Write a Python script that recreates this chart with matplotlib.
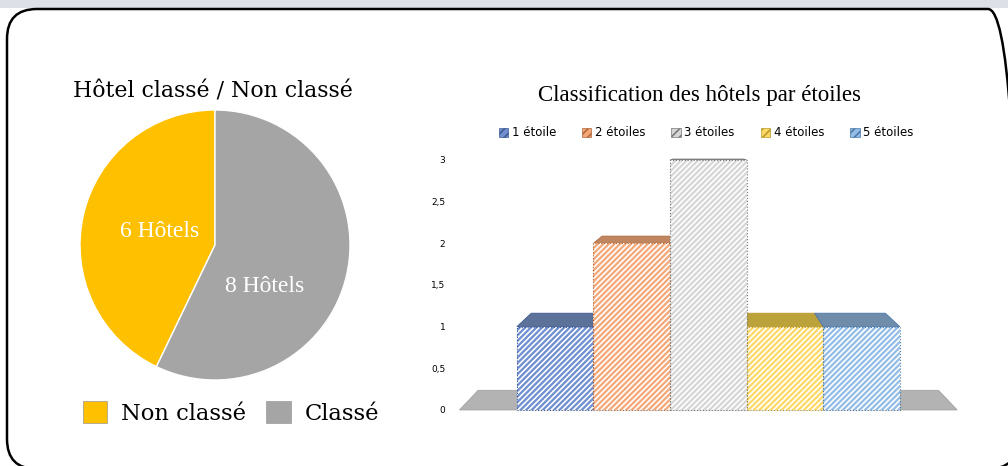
import matplotlib.pyplot as plt
from matplotlib.patches import Patch, Polygon, FancyBboxPatch, Rectangle

# pie data
pie_labels = ['Non classé', 'Classé']
pie_values = [6, 8]
pie_colors = ['#FFC000', '#A5A5A5']

# bar data
bar_labels = ['1 étoile', '2 étoiles', '3 étoiles', '4 étoiles', '5 étoiles']
bar_values = [1, 2, 3, 1, 1]
bar_colors = ['#6f8fd0', '#f4a878', '#d6d6d6', '#ffd966', '#93bde6']
top_colors = ['#5d7298', '#c08660', '#8e8e8e', '#bba23a', '#6f8cab']
edge_colors = ['#3f5a92', '#b0683c', '#7a7a7a', '#b89a2a', '#4a78a8']
y_ticks = [0, 0.5, 1, 1.5, 2, 2.5, 3]
y_tick_labels = ['0', '0,5', '1', '1,5', '2', '2,5', '3']

W, H = 1008, 466
fig = plt.figure(figsize=(W / 100, H / 100), dpi=100)
fig.patch.set_facecolor('white')

# frame
fig.patches.append(Rectangle((0, 1 - 8 / H), 1, 8 / H, transform=fig.transFigure,
                             facecolor='#dde0e6', edgecolor='none', zorder=0))
fig.patches.append(FancyBboxPatch((7 / 100, -3 / 100), (1018 - 7) / 100, (H - 9 + 3) / 100,
                                  boxstyle='round,pad=0,rounding_size=0.3',
                                  transform=fig.dpi_scale_trans, facecolor='none',
                                  edgecolor='black', linewidth=1.8, zorder=1))

serif = 'Liberation Serif'
wide_serif = 'DejaVu Serif'

# ---- pie ----
axp = fig.add_axes([80 / W, (H - 380) / H, 270 / W, 270 / H])
axp.pie(pie_values, colors=pie_colors, startangle=90, counterclock=True,
        wedgeprops=dict(edgecolor='white', linewidth=1))
axp.set_xlim(-1, 1)
axp.set_ylim(-1, 1)
axp.set_aspect('equal')
axp.axis('off')
axp.text(-0.41, 0.10, '%d Hôtels' % pie_values[0], color='white', ha='center', va='center',
         fontsize=17, family=serif)
axp.text(0.37, -0.31, '%d Hôtels' % pie_values[1], color='white', ha='center', va='center',
         fontsize=17, family=serif)
fig.text(213 / W, 1 - 91 / H, 'Hôtel classé / Non classé', ha='center', va='center',
         fontsize=15.8, family=wide_serif)
fig.legend([Patch(facecolor=c, edgecolor='#999999', linewidth=0.5) for c in pie_colors],
           pie_labels, loc='center', bbox_to_anchor=(231 / W, 1 - 413 / H), ncol=2,
           frameon=False, prop=dict(family=wide_serif, size=16.3), handlelength=1.1,
           handleheight=1.1, handletextpad=0.6, columnspacing=0.9)

# ---- bars ----
axb = fig.add_axes([448 / W, (H - 418.3) / H, (984 - 448) / W, 283.3 / H])
axb.set_xlim(-1.4, 5.6)
axb.set_ylim(-0.1, 3.3)
for s in axb.spines.values():
    s.set_visible(False)
axb.set_xticks([])
axb.set_yticks(y_ticks)
axb.set_yticklabels(y_tick_labels, fontsize=6.5)
axb.tick_params(axis='y', length=0, pad=2)

vp = (2.0, 3.15)
k = 0.925


def back(x, y):
    return (vp[0] + (x - vp[0]) * k, vp[1] + (y - vp[1]) * k)


xs = list(range(len(bar_values)))
fl, fr = -1.25, len(bar_values) + 0.25
axb.add_patch(Polygon([(fl, 0), (fr, 0), back(fr, 0), back(fl, 0)], closed=True,
                      facecolor='#b3b3b3', edgecolor='#9a9a9a', linewidth=0.5, zorder=1))
for x, v, tc, ec in zip(xs, bar_values, top_colors, edge_colors):
    l, r = x - 0.5, x + 0.5
    axb.add_patch(Polygon([(l, v), (r, v), back(r, v), back(l, v)], closed=True,
                          facecolor=tc, edgecolor=ec, linewidth=0.6, zorder=2))
plt.rcParams['hatch.linewidth'] = 1.2
axb.bar(xs, bar_values, width=1, color=bar_colors, edgecolor='white', hatch='//////',
        linewidth=0, zorder=3)
axb.bar(xs, bar_values, width=1, color='none', edgecolor=edge_colors, linewidth=0.8,
        linestyle=':', zorder=4)

fig.text(700 / W, 1 - 96 / H, 'Classification des hôtels par étoiles', ha='center',
         va='center', fontsize=16.5, family=serif)
fig.legend([Patch(facecolor=c, edgecolor=e, hatch='////', linewidth=0.5)
            for c, e in zip(bar_colors, edge_colors)],
           bar_labels, loc='center', bbox_to_anchor=(706 / W, 1 - 133 / H), ncol=5,
           frameon=False, fontsize=8.5, handlelength=0.8, handleheight=0.8,
           handletextpad=0.3, columnspacing=2.2)

fig.savefig('out.png', dpi=100)
